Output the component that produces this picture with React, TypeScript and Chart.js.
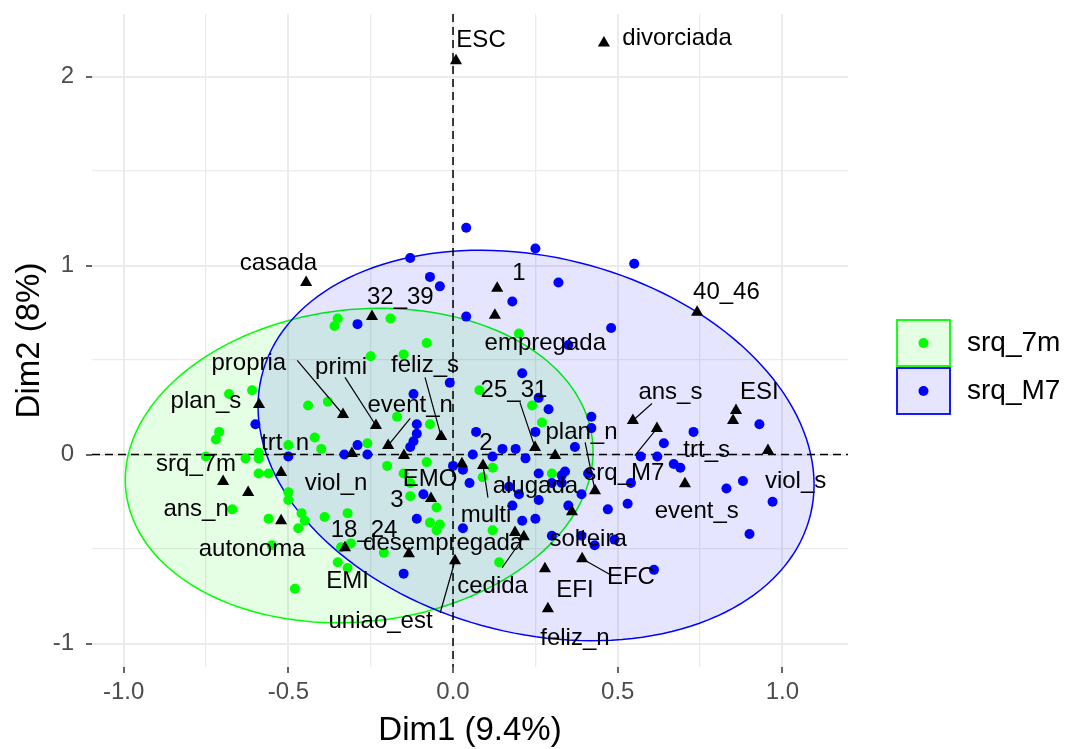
import React, { useEffect, useRef } from 'react';
import { Chart, registerables } from 'chart.js';

Chart.register(...registerables);

// ---------- data ----------
const groupNames = ['srq_7m', 'srq_M7'];
const groupColors = ['#00ff00', '#0000ff'];
const groupFills = ['rgba(0,255,0,0.1)', 'rgba(0,0,255,0.1)'];

const pointsSrq7m: [number, number][] = [
  [-0.35, 0.72], [-0.36, 0.68], [-0.19, 0.72], [-0.08, 0.59], [-0.25, 0.52], [-0.15, 0.53],
  [-0.68, 0.32], [-0.61, 0.34], [-0.44, 0.26], [-0.38, 0.28], [-0.17, 0.20], [-0.07, 0.16],
  [-0.71, 0.12], [-0.72, 0.08], [-0.42, 0.09], [-0.26, 0.06], [-0.50, 0.05], [-0.40, 0.03],
  [-0.59, 0.01], [0.20, 0.64], [0.08, 0.34], [0.24, 0.26], [0.27, 0.17], [-0.63, -0.02],
  [-0.59, -0.02], [-0.75, -0.01], [-0.59, -0.10], [-0.56, -0.10], [-0.67, -0.29], [-0.56, -0.34],
  [-0.50, -0.20], [-0.50, -0.24], [-0.46, -0.31], [-0.45, -0.35], [-0.47, -0.39], [-0.55, -0.48],
  [-0.48, -0.71], [-0.35, -0.57], [-0.32, -0.60], [-0.39, -0.33], [-0.32, -0.31], [-0.34, -0.49],
  [-0.31, -0.47], [-0.20, -0.06], [-0.15, -0.10], [-0.13, -0.15], [-0.08, -0.04], [-0.13, -0.22],
  [-0.05, -0.28], [-0.07, -0.36], [-0.04, -0.37], [-0.05, -0.40], [-0.21, -0.52], [0.12, -0.07],
  [0.09, -0.12], [0.30, -0.10], [0.12, -0.40], [0.14, -0.57],
];

const pointsSrqM7: [number, number][] = [
  [0.04, 1.20], [0.25, 1.09], [0.55, 1.01], [-0.13, 1.04], [-0.07, 0.94], [-0.04, 0.89],
  [0.32, 0.91], [0.18, 0.81], [0.04, 0.73], [-0.29, 0.69], [0.48, 0.67], [0.35, 0.58],
  [0.21, 0.43], [-0.01, 0.38], [-0.12, 0.32], [0.26, 0.30], [0.29, 0.24], [0.42, 0.20],
  [0.42, 0.14], [0.25, 0.12], [0.07, 0.12], [0.93, 0.16], [0.73, 0.12], [0.64, 0.06],
  [-0.11, 0.16], [-0.60, 0.16], [-0.11, 0.11], [-0.12, 0.07], [-0.13, 0.04], [-0.29, 0.05],
  [-0.33, 0.00], [-0.26, 0.00], [0.37, 0.04], [0.19, 0.03], [0.15, 0.03], [0.06, 0.00],
  [0.12, -0.01], [0.57, -0.01], [0.62, -0.01], [0.67, -0.05], [0.69, -0.07], [0.00, -0.06],
  [0.05, -0.15], [0.26, -0.10], [0.33, -0.11], [0.34, -0.09], [0.41, -0.10], [0.30, -0.15],
  [0.33, -0.15], [0.54, -0.15], [0.20, -0.21], [0.18, -0.27], [0.26, -0.24], [0.35, -0.27],
  [0.39, -0.21], [0.21, -0.35], [0.25, -0.34], [0.03, -0.39], [0.30, -0.43], [0.39, -0.43],
  [0.43, -0.48], [0.49, -0.45], [0.47, -0.29], [0.53, -0.26], [0.83, -0.18], [0.88, -0.14],
  [0.97, -0.25], [0.90, -0.42], [0.61, -0.61], [-0.50, -0.01], [-0.09, -0.21], [-0.11, -0.34],
  [-0.15, -0.63], [0.17, -0.17], [0.22, -0.02], [0.03, -0.08],
];

// category (variable) coordinates: name, Dim1, Dim2
const categories: [string, number, number][] = [
  ['ESC', 0.009, 2.083], ['divorciada', 0.458, 2.178], ['casada', -0.446, 0.911],
  ['32_39', -0.246, 0.731], ['1', 0.134, 0.880], ['empregada', 0.127, 0.737],
  ['40_46', 0.741, 0.753], ['plan_s', -0.589, 0.265], ['propria', -0.334, 0.212],
  ['primi', -0.234, 0.154], ['event_n', -0.197, 0.048], ['feliz_s', -0.036, 0.095],
  ['25_31', 0.249, 0.037], ['EMI', 0.310, -0.005], ['ans_s', 0.546, 0.180],
  ['srq_M7', 0.619, 0.138], ['ESI', 0.859, 0.233], ['trt_s', 0.850, 0.180],
  ['viol_s', 0.956, 0.021], ['event_s', 0.704, -0.154], ['srq_7m', -0.698, -0.143],
  ['ans_n', -0.622, -0.201], ['trt_n', -0.522, -0.095], ['autonoma', -0.522, -0.350],
  ['viol_n', -0.307, 0.005], ['EMO', -0.149, -0.005], ['3', -0.067, -0.233],
  ['18_24', -0.328, -0.493], ['desempregada', -0.134, -0.525], ['uniao_est', 0.006, -0.562],
  ['2', 0.027, -0.048], ['alugada', 0.091, -0.058], ['plan_n', 0.431, -0.191],
  ['solteira', 0.361, -0.302], ['multi', 0.188, -0.413], ['cedida', 0.215, -0.435],
  ['EFI', 0.279, -0.604], ['EFC', 0.392, -0.551], ['feliz_n', 0.288, -0.816],
];

// repelled label positions (data units), same order as categories
const labelPositions: [number, number][] = [
  [0.085, 2.19], [0.68, 2.20], [-0.53, 1.01], [-0.16, 0.83], [0.20, 0.96], [0.28, 0.59],
  [0.83, 0.86], [-0.75, 0.28], [-0.62, 0.48], [-0.34, 0.46], [-0.13, 0.26], [-0.085, 0.47],
  [0.185, 0.34], [-0.32, -0.67], [0.66, 0.33], [0.52, -0.10], [0.93, 0.33], [0.77, 0.02],
  [1.04, -0.14], [0.74, -0.30], [-0.78, -0.05], [-0.78, -0.29], [-0.51, 0.06], [-0.61, -0.50],
  [-0.355, -0.15], [-0.07, -0.13], [-0.17, -0.24], [-0.27, -0.40], [-0.03, -0.47], [-0.22, -0.88],
  [0.10, 0.06], [0.25, -0.17], [0.39, 0.12], [0.41, -0.45], [0.10, -0.32], [0.12, -0.70],
  [0.37, -0.72], [0.54, -0.65], [0.37, -0.975],
];

// label-side start of the repel segments: name, Dim1, Dim2
const segmentStarts: [string, number, number][] = [
  ['propria', -0.473, 0.498], ['primi', -0.328, 0.408], ['feliz_s', -0.085, 0.408],
  ['event_n', -0.130, 0.191], ['25_31', 0.203, 0.276], ['plan_n', 0.401, 0.064],
  ['ans_s', 0.604, 0.270], ['srq_M7', 0.552, -0.005], ['alugada', 0.106, -0.228],
  ['cedida', 0.149, -0.599], ['EFC', 0.483, -0.641], ['uniao_est', -0.039, -0.837],
];

// concentration ellipses per group
const ellipseCenterX = [-0.285, 0.252];
const ellipseCenterY = [-0.058, 0.048];
const ellipseHalfX = [0.71, 0.844];
const ellipseHalfY = [0.832, 1.033];
const ellipseRho = [0.09, -0.2];

const xTickValues = [-1, -0.75, -0.5, -0.25, 0, 0.25, 0.5, 0.75, 1];
const yTickValues = [-1, -0.5, 0, 0.5, 1, 1.5, 2];
const xTitle = 'Dim1 (9.4%)';
const yTitle = 'Dim2 (8%)';

const FONT = "'Liberation Sans', Arial, sans-serif";

const isHalf = (v: number) => Math.abs(v * 2 - Math.round(v * 2)) < 1e-6;

const overlayPlugin = {
  id: 'mcaOverlay',
  beforeDatasetsDraw(chart: any) {
    const { ctx, chartArea, scales } = chart;
    const xs = scales.x;
    const ys = scales.y;
    ctx.save();
    for (let g = 0; g < 2; g++) {
      ctx.beginPath();
      const n = 160;
      const r = ellipseRho[g];
      for (let k = 0; k <= n; k++) {
        const t = (2 * Math.PI * k) / n;
        const dx = ellipseHalfX[g] * Math.cos(t);
        const dy = ellipseHalfY[g] * (r * Math.cos(t) + Math.sqrt(1 - r * r) * Math.sin(t));
        const px = xs.getPixelForValue(ellipseCenterX[g] + dx);
        const py = ys.getPixelForValue(ellipseCenterY[g] + dy);
        if (k === 0) ctx.moveTo(px, py);
        else ctx.lineTo(px, py);
      }
      ctx.closePath();
      ctx.fillStyle = groupFills[g];
      ctx.fill();
      ctx.lineWidth = 1.5;
      ctx.strokeStyle = groupColors[g];
      ctx.stroke();
    }
    // dashed reference lines
    ctx.strokeStyle = '#000';
    ctx.lineWidth = 1.5;
    ctx.setLineDash([8, 5]);
    const x0 = xs.getPixelForValue(0);
    const y0 = ys.getPixelForValue(0);
    ctx.beginPath();
    ctx.moveTo(x0, chartArea.top);
    ctx.lineTo(x0, chartArea.bottom);
    ctx.moveTo(chartArea.left, y0);
    ctx.lineTo(chartArea.right, y0);
    ctx.stroke();
    ctx.restore();
  },
  afterDatasetsDraw(chart: any) {
    const { ctx, scales } = chart;
    const xs = scales.x;
    const ys = scales.y;
    ctx.save();
    ctx.strokeStyle = '#000';
    ctx.lineWidth = 1.2;
    segmentStarts.forEach(([name, sx, sy]) => {
      const c = categories.find((d) => d[0] === name);
      if (!c) return;
      ctx.beginPath();
      ctx.moveTo(xs.getPixelForValue(sx), ys.getPixelForValue(sy));
      ctx.lineTo(xs.getPixelForValue(c[1]), ys.getPixelForValue(c[2]));
      ctx.stroke();
    });
    ctx.fillStyle = '#000';
    ctx.font = `24px ${FONT}`;
    ctx.textAlign = 'center';
    ctx.textBaseline = 'middle';
    categories.forEach((c, i) => {
      const [lx, ly] = labelPositions[i];
      ctx.fillText(c[0], xs.getPixelForValue(lx), ys.getPixelForValue(ly));
    });
    ctx.restore();
  },
  afterDraw(chart: any) {
    const { ctx } = chart;
    ctx.save();
    const boxLeft = 897;
    const boxW = 53;
    const boxTops = [320, 368];
    const boxH = 46;
    for (let g = 0; g < 2; g++) {
      ctx.fillStyle = '#ffffff';
      ctx.fillRect(boxLeft, boxTops[g], boxW, boxH);
      ctx.fillStyle = groupFills[g];
      ctx.fillRect(boxLeft, boxTops[g], boxW, boxH);
      ctx.strokeStyle = groupColors[g];
      ctx.lineWidth = 1.8;
      ctx.strokeRect(boxLeft, boxTops[g], boxW, boxH);
      ctx.beginPath();
      ctx.arc(boxLeft + boxW / 2, boxTops[g] + boxH / 2, 5, 0, Math.PI * 2);
      ctx.fillStyle = groupColors[g];
      ctx.fill();
      ctx.fillStyle = '#000';
      ctx.font = `28px ${FONT}`;
      ctx.textAlign = 'left';
      ctx.textBaseline = 'middle';
      ctx.fillText(groupNames[g], 967, boxTops[g] + boxH / 2);
    }
    ctx.restore();
  },
};

const zeroPadding = (s: any) => {
  s.paddingTop = 0;
  s.paddingBottom = 0;
  s.paddingLeft = 0;
  s.paddingRight = 0;
};

export default function App() {
  const canvasRef = useRef<HTMLCanvasElement | null>(null);

  useEffect(() => {
    const canvas = canvasRef.current;
    if (!canvas) return;
    const chart = new Chart(canvas, {
      type: 'scatter',
      data: {
        datasets: [
          {
            label: 'variables',
            data: categories.map((c) => ({ x: c[1], y: c[2] })),
            pointStyle: 'triangle',
            pointRadius: 7,
            backgroundColor: '#000',
            borderWidth: 0,
            order: 0,
          },
          {
            label: groupNames[1],
            data: pointsSrqM7.map(([x, y]) => ({ x, y })),
            pointRadius: 5,
            backgroundColor: groupColors[1],
            borderWidth: 0,
            order: 1,
          },
          {
            label: groupNames[0],
            data: pointsSrq7m.map(([x, y]) => ({ x, y })),
            pointRadius: 5,
            backgroundColor: groupColors[0],
            borderWidth: 0,
            order: 2,
          },
        ],
      },
      options: {
        responsive: false,
        animation: false,
        devicePixelRatio: 1,
        events: [],
        layout: { padding: { left: 0, top: 14, right: 225, bottom: 0 } },
        plugins: { legend: { display: false }, tooltip: { enabled: false } },
        scales: {
          x: {
            type: 'linear',
            min: -1.096,
            max: 1.199,
            afterBuildTicks: (s: any) => {
              s.ticks = xTickValues.map((v) => ({ value: v }));
            },
            afterFit: (s: any) => {
              s.height = 82;
              zeroPadding(s);
            },
            border: { display: false },
            grid: {
              color: '#ebebeb',
              lineWidth: (c: any) => (isHalf(c.tick?.value ?? 0) ? 2 : 1.3),
              tickLength: 6,
              tickColor: (c: any) => (isHalf(c.tick?.value ?? 0) ? '#333333' : 'rgba(0,0,0,0)'),
              tickWidth: 1.5,
            },
            ticks: {
              autoSkip: false,
              maxRotation: 0,
              padding: 5,
              color: '#4d4d4d',
              font: { size: 24, family: FONT },
              callback: (v: any) => {
                const n = Number(v);
                return isHalf(n) ? n.toFixed(1) : '';
              },
            },
            title: {
              display: true,
              text: xTitle,
              color: '#000',
              font: { size: 33, family: FONT, lineHeight: 1 },
              padding: { top: 0, bottom: 2 },
            },
          },
          y: {
            type: 'linear',
            min: -1.124,
            max: 2.331,
            afterBuildTicks: (s: any) => {
              s.ticks = yTickValues.map((v) => ({ value: v }));
            },
            afterFit: (s: any) => {
              s.width = 92;
              zeroPadding(s);
            },
            border: { display: false },
            grid: {
              color: '#ebebeb',
              lineWidth: (c: any) => (Number.isInteger(c.tick?.value ?? 0) ? 2 : 1.3),
              tickLength: 6,
              tickColor: (c: any) => (Number.isInteger(c.tick?.value ?? 0) ? '#333333' : 'rgba(0,0,0,0)'),
              tickWidth: 1.5,
            },
            ticks: {
              autoSkip: false,
              padding: 12,
              color: '#4d4d4d',
              font: { size: 24, family: FONT },
              callback: (v: any) => {
                const n = Number(v);
                return Number.isInteger(n) ? String(n) : '';
              },
            },
            title: {
              display: true,
              text: yTitle,
              color: '#000',
              font: { size: 33, family: FONT, lineHeight: 1 },
              padding: { top: 13, bottom: 0 },
            },
          },
        },
      },
      plugins: [overlayPlugin],
    } as any);
    return () => chart.destroy();
  }, []);

  return (
    <div style={{ position: 'fixed', left: 0, top: 0, width: 1073, height: 749, background: '#fff' }}>
      <canvas ref={canvasRef} width={1073} height={749} style={{ width: '1073px', height: '749px', display: 'block' }} />
    </div>
  );
}
